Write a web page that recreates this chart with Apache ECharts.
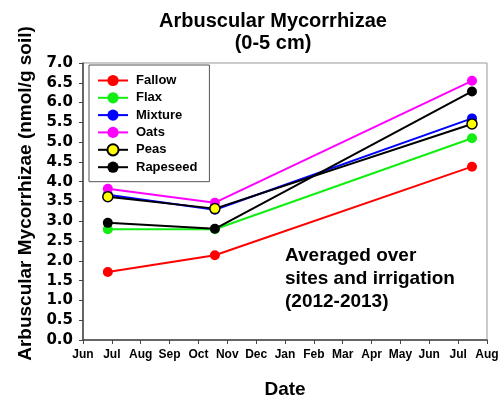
<!DOCTYPE html>
<html>
<head>
<meta charset="utf-8">
<script src="https://cdn.jsdelivr.net/npm/echarts@6/dist/echarts.min.js"></script>
<style>
  html, body { margin: 0; padding: 0; background: #fff; }
  #myChart { width: 503px; height: 404px; }
</style>
</head>
<body>
<div id="myChart"></div>
<script>
// month labels along the x axis (Jun 2012 .. Aug 2013)
const monthLabels = ['Jun', 'Jul', 'Aug', 'Sep', 'Oct', 'Nov', 'Dec', 'Jan', 'Feb', 'Mar', 'Apr', 'May', 'Jun', 'Jul', 'Aug'];
// sampling dates, as months after 1 Jun 2012
const sampleMonths = [0.86, 4.57, 13.48];

const fallow = [1.72, 2.14, 4.38];
const flax = [2.80, 2.80, 5.10];
const mixture = [3.67, 3.29, 5.60];
const oats = [3.82, 3.47, 6.55];
const peas = [3.62, 3.32, 5.46];
const rapeseed = [2.96, 2.81, 6.28];

const FONT = 'Liberation Sans, Arial, sans-serif';

function pairs(vals) {
  return vals.map(function (v, i) { return [sampleMonths[i], v]; });
}

function makeSeries(name, vals, color, fill) {
  return {
    name: name,
    type: 'line',
    data: pairs(vals),
    symbol: 'circle',
    symbolSize: 10,
    lineStyle: { color: color, width: 2 },
    itemStyle: fill
      ? { color: fill, borderColor: color, borderWidth: 1.5 }
      : { color: color, borderWidth: 0 },
    emphasis: { disabled: true },
    animation: false
  };
}

let myChart = echarts.init(document.getElementById('myChart'));
myChart.setOption({
  animation: false,
  title: {
    text: 'Arbuscular Mycorrhizae\n(0-5 cm)',
    left: 268,
    top: 5,
    textAlign: 'center',
    textStyle: { fontFamily: FONT, fontWeight: 'bold', fontSize: 20, lineHeight: 22, color: '#000' }
  },
  legend: {
    orient: 'vertical',
    left: 89,
    top: 65,
    padding: [9, 12, 8, 8],
    itemWidth: 30,
    itemHeight: 14,
    itemGap: 4.3,
    borderColor: '#555',
    borderWidth: 1,
    backgroundColor: '#fff',
    textStyle: { fontFamily: FONT, fontWeight: 'bold', fontSize: 13, color: '#000', padding: [0, 0, 0, 3] },
    data: ['Fallow', 'Flax', 'Mixture', 'Oats', 'Peas', 'Rapeseed']
  },
  grid: {
    left: 83,
    right: 16,
    top: 63,
    bottom: 61,
    show: true,
    borderColor: '#999',
    borderWidth: 1
  },
  xAxis: {
    type: 'value',
    min: 0,
    max: 14,
    interval: 1,
    name: 'Date',
    nameLocation: 'middle',
    nameGap: 40,
    nameTextStyle: { fontFamily: FONT, fontWeight: 'bold', fontSize: 19, color: '#000' },
    axisLine: { lineStyle: { color: '#444', width: 1.5 } },
    axisTick: { show: true, length: 4, lineStyle: { color: '#444' } },
    axisLabel: {
      margin: 9,
      fontFamily: FONT, fontWeight: 'bold', fontSize: 12, color: '#000',
      formatter: function (v) { return monthLabels[Math.round(v)] || ''; }
    },
    splitLine: { show: false }
  },
  yAxis: {
    type: 'value',
    min: 0,
    max: 7,
    interval: 0.5,
    name: 'Arbuscular Mycorrhizae (nmol/g soil)',
    nameLocation: 'middle',
    nameRotate: 90,
    nameGap: 47,
    nameTextStyle: { fontFamily: FONT, fontWeight: 'bold', fontSize: 19, color: '#000', padding: [0, 0, 0, 16] },
    axisLine: { show: true, lineStyle: { color: '#444', width: 1.5 } },
    axisTick: { show: true, length: 4, lineStyle: { color: '#444' } },
    axisLabel: {
      margin: 10,
      fontFamily: 'DejaVu Sans, sans-serif', fontWeight: 'bold', fontSize: 15, color: '#000',
      formatter: function (v) { return v.toFixed(1); }
    },
    splitLine: { show: false }
  },
  graphic: [{
    type: 'text',
    left: 285,
    top: 244,
    style: {
      text: 'Averaged over\nsites and irrigation\n(2012-2013)',
      font: 'bold 19px ' + FONT,
      lineHeight: 23,
      fill: '#000'
    }
  }],
  series: [
    makeSeries('Fallow', fallow, '#ff0000'),
    makeSeries('Flax', flax, '#11ee11'),
    makeSeries('Mixture', mixture, '#0000ff'),
    makeSeries('Oats', oats, '#ff00ff'),
    makeSeries('Peas', peas, '#000000', '#ffff00'),
    makeSeries('Rapeseed', rapeseed, '#000000')
  ]
});
window.addEventListener('resize', function () {
  myChart.resize();
});
</script>
</body>
</html>
